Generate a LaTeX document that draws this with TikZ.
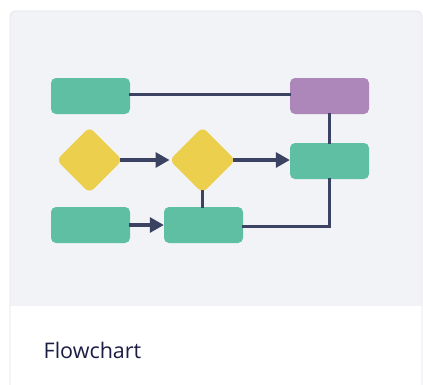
\documentclass[tikz,border=0pt]{standalone}
\usepackage{fontspec}
\setmainfont{Open Sans}
\usetikzlibrary{shapes.geometric,arrows.meta}
\definecolor{cardgrey}{HTML}{F2F3F7}
\definecolor{cardborder}{HTML}{E4E5EA}
\definecolor{boxgreen}{HTML}{5FBFA3}
\definecolor{boxpurple}{HTML}{AD87BA}
\definecolor{diayellow}{HTML}{ECD04D}
\definecolor{linecol}{HTML}{3B4262}
\definecolor{textcol}{HTML}{1B1D45}
\begin{document}
\begin{tikzpicture}[x=1pt,y=-1pt,
  procbox/.style={rectangle,rounded corners=5pt,minimum width=79pt,minimum height=36pt,inner sep=0pt,draw=none},
  decbox/.style={diamond,rounded corners=6pt,minimum width=66pt,minimum height=66pt,inner sep=0pt,outer sep=0pt,fill=diayellow,draw=none},
  conn/.style={draw=linecol,line width=3.2pt},
  arr/.style={conn,-{Triangle[length=14pt,width=15pt]}}]
\useasboundingbox (0,0) rectangle (423,384);
\fill[white] (0,0) rectangle (423,384);
% card
\begin{scope}
  \clip[rounded corners=5pt] (10,11) rectangle (422,420);
  \fill[cardgrey] (10,11) rectangle (422,306);
  \fill[white] (10,306) rectangle (422,420);
\end{scope}
\draw[cardborder,line width=0.8pt,rounded corners=5pt] (10,11) rectangle (422,420);
% nodes
\node[procbox,fill=boxgreen] (tl) at (90.5,96) {};
\node[procbox,fill=boxpurple] (tr) at (329.5,96) {};
\node[decbox] (d1) at (89.5,160) {};
\node[decbox] (d2) at (202.5,160) {};
\node[procbox,fill=boxgreen] (mr) at (329.5,161) {};
\node[procbox,fill=boxgreen] (bl) at (90.5,225) {};
\node[procbox,fill=boxgreen] (bm) at (203.5,225) {};
% connectors
\draw[conn] ([xshift=-1pt,yshift=1.5pt]tl.east) -- ([xshift=1pt,yshift=1.5pt]tr.west);
\draw[conn] ([yshift=1pt]tr.south) -- ([yshift=-1pt]mr.north);
\draw[arr] ([xshift=-3pt]d1.east) -- (d2.west);
\draw[arr] ([xshift=-3pt]d2.east) -- (d2.east -| mr.west);
\draw[conn] ([yshift=3pt]d2.south) -- ([yshift=-1pt]d2.south |- bm.north);
\draw[arr] ([xshift=-1pt]bl.east) -- (bm.west);
\draw[conn] ([xshift=-1pt,yshift=-1.5pt]bm.east) -| ([yshift=1pt]mr.south);
% label
\node[anchor=base west,inner sep=0pt,text=textcol,font=\fontsize{21.5}{26}\selectfont] (lbl) at (43.5,358) {Flowchart};
\end{tikzpicture}
\end{document}
